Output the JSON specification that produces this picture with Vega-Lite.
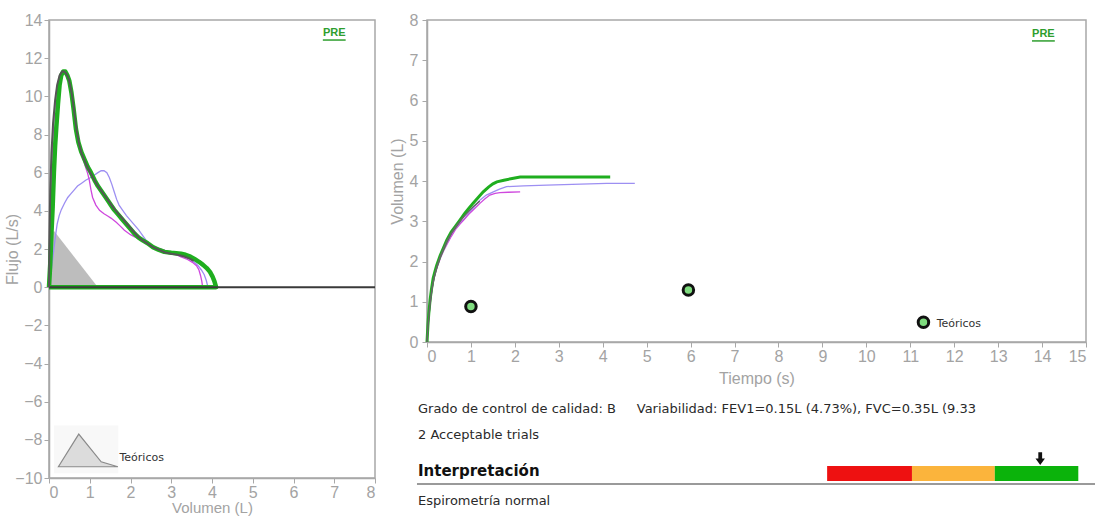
{
  "$schema": "https://vega.github.io/schema/vega-lite/v6.json",
  "background": "white",
  "padding": {"left": 4, "top": 11, "right": 0, "bottom": 0},
  "spacing": 11,
  "config": {
    "font": "Liberation Sans",
    "view": {"stroke": "#a8a8a8", "strokeWidth": 1.5},
    "axis": {
      "grid": false,
      "labelFont": "Liberation Sans",
      "labelFontSize": 16,
      "labelColor": "#a3a3a3",
      "titleFont": "Liberation Sans",
      "titleFontSize": 16,
      "titleFontWeight": "normal",
      "titleColor": "#a3a3a3",
      "domainColor": "#a8a8a8",
      "domainWidth": 1.5,
      "tickColor": "#a8a8a8",
      "tickSize": 5
    }
  },
  "datasets": {
    "one": [{}],
    "fv": [
      {"s": "g", "v": 0, "f": 0}, {"s": "g", "v": 0.03, "f": 1.2}, {"s": "g", "v": 0.06, "f": 2.8}, {"s": "g", "v": 0.09, "f": 4.2}, {"s": "g", "v": 0.12, "f": 6.0}, {"s": "g", "v": 0.15, "f": 7.4}, {"s": "g", "v": 0.18, "f": 8.4}, {"s": "g", "v": 0.22, "f": 9.6}, {"s": "g", "v": 0.26, "f": 10.6}, {"s": "g", "v": 0.3, "f": 11.1}, {"s": "g", "v": 0.35, "f": 11.3}, {"s": "g", "v": 0.4, "f": 11.3}, {"s": "g", "v": 0.45, "f": 11.1}, {"s": "g", "v": 0.5, "f": 10.8}, {"s": "g", "v": 0.55, "f": 10.2}, {"s": "g", "v": 0.6, "f": 9.4}, {"s": "g", "v": 0.66, "f": 8.3}, {"s": "g", "v": 0.72, "f": 7.6}, {"s": "g", "v": 0.79, "f": 7.1}, {"s": "g", "v": 0.87, "f": 6.7}, {"s": "g", "v": 0.95, "f": 6.3}, {"s": "g", "v": 1.03, "f": 6.0}, {"s": "g", "v": 1.12, "f": 5.6}, {"s": "g", "v": 1.2, "f": 5.3}, {"s": "g", "v": 1.28, "f": 5.05}, {"s": "g", "v": 1.36, "f": 4.8}, {"s": "g", "v": 1.44, "f": 4.55}, {"s": "g", "v": 1.52, "f": 4.3}, {"s": "g", "v": 1.6, "f": 4.05}, {"s": "g", "v": 1.7, "f": 3.8}, {"s": "g", "v": 1.8, "f": 3.55}, {"s": "g", "v": 1.9, "f": 3.3}, {"s": "g", "v": 2.0, "f": 3.05}, {"s": "g", "v": 2.1, "f": 2.8}, {"s": "g", "v": 2.2, "f": 2.6}, {"s": "g", "v": 2.3, "f": 2.45}, {"s": "g", "v": 2.42, "f": 2.3}, {"s": "g", "v": 2.55, "f": 2.1}, {"s": "g", "v": 2.7, "f": 1.95}, {"s": "g", "v": 2.83, "f": 1.85}, {"s": "g", "v": 3.0, "f": 1.8}, {"s": "g", "v": 3.12, "f": 1.78}, {"s": "g", "v": 3.24, "f": 1.75}, {"s": "g", "v": 3.35, "f": 1.7}, {"s": "g", "v": 3.47, "f": 1.6}, {"s": "g", "v": 3.57, "f": 1.48}, {"s": "g", "v": 3.68, "f": 1.33}, {"s": "g", "v": 3.78, "f": 1.17}, {"s": "g", "v": 3.87, "f": 1.0}, {"s": "g", "v": 3.95, "f": 0.8}, {"s": "g", "v": 4.01, "f": 0.57}, {"s": "g", "v": 4.06, "f": 0.3}, {"s": "g", "v": 4.09, "f": 0.08}, {"s": "g", "v": 4.1, "f": 0}, {"s": "g", "v": 0, "f": 0},
      {"s": "k", "v": 0, "f": 0}, {"s": "k", "v": 0.01, "f": 2.5}, {"s": "k", "v": 0.03, "f": 5.0}, {"s": "k", "v": 0.06, "f": 7.0}, {"s": "k", "v": 0.1, "f": 8.6}, {"s": "k", "v": 0.15, "f": 9.8}, {"s": "k", "v": 0.2, "f": 10.6}, {"s": "k", "v": 0.26, "f": 11.1}, {"s": "k", "v": 0.32, "f": 11.3}, {"s": "k", "v": 0.37, "f": 11.3}, {"s": "k", "v": 0.42, "f": 11.2}, {"s": "k", "v": 0.47, "f": 11.0}, {"s": "k", "v": 0.52, "f": 10.6}, {"s": "k", "v": 0.57, "f": 10.0}, {"s": "k", "v": 0.62, "f": 9.2}, {"s": "k", "v": 0.68, "f": 8.2}, {"s": "k", "v": 0.74, "f": 7.5}, {"s": "k", "v": 0.8, "f": 7.0}, {"s": "k", "v": 0.9, "f": 6.5}, {"s": "k", "v": 1.0, "f": 6.05}, {"s": "k", "v": 1.1, "f": 5.65}, {"s": "k", "v": 1.2, "f": 5.3}, {"s": "k", "v": 1.3, "f": 5.0}, {"s": "k", "v": 1.4, "f": 4.7}, {"s": "k", "v": 1.5, "f": 4.4}, {"s": "k", "v": 1.6, "f": 4.1}, {"s": "k", "v": 1.7, "f": 3.85}, {"s": "k", "v": 1.8, "f": 3.6}, {"s": "k", "v": 1.9, "f": 3.35}, {"s": "k", "v": 2.0, "f": 3.1}, {"s": "k", "v": 2.1, "f": 2.85}, {"s": "k", "v": 2.2, "f": 2.62}, {"s": "k", "v": 2.3, "f": 2.45}, {"s": "k", "v": 2.42, "f": 2.28}, {"s": "k", "v": 2.55, "f": 2.1}, {"s": "k", "v": 2.7, "f": 1.95}, {"s": "k", "v": 2.85, "f": 1.82}, {"s": "k", "v": 3.0, "f": 1.75}, {"s": "k", "v": 3.15, "f": 1.7}, {"s": "k", "v": 3.3, "f": 1.62}, {"s": "k", "v": 3.45, "f": 1.5}, {"s": "k", "v": 3.55, "f": 1.38},
      {"s": "m", "v": 0, "f": 0}, {"s": "m", "v": 0.02, "f": 2.0}, {"s": "m", "v": 0.04, "f": 4.0}, {"s": "m", "v": 0.06, "f": 5.8}, {"s": "m", "v": 0.09, "f": 7.5}, {"s": "m", "v": 0.13, "f": 9.0}, {"s": "m", "v": 0.18, "f": 10.2}, {"s": "m", "v": 0.24, "f": 10.9}, {"s": "m", "v": 0.3, "f": 11.2}, {"s": "m", "v": 0.36, "f": 11.25}, {"s": "m", "v": 0.42, "f": 11.1}, {"s": "m", "v": 0.48, "f": 10.8}, {"s": "m", "v": 0.54, "f": 10.1}, {"s": "m", "v": 0.6, "f": 9.3}, {"s": "m", "v": 0.66, "f": 8.3}, {"s": "m", "v": 0.72, "f": 7.6}, {"s": "m", "v": 0.8, "f": 7.0}, {"s": "m", "v": 0.88, "f": 6.4}, {"s": "m", "v": 0.95, "f": 5.95}, {"s": "m", "v": 0.99, "f": 5.6}, {"s": "m", "v": 1.03, "f": 5.1}, {"s": "m", "v": 1.07, "f": 4.7}, {"s": "m", "v": 1.15, "f": 4.3}, {"s": "m", "v": 1.24, "f": 4.03}, {"s": "m", "v": 1.35, "f": 3.85}, {"s": "m", "v": 1.45, "f": 3.72}, {"s": "m", "v": 1.52, "f": 3.62}, {"s": "m", "v": 1.65, "f": 3.4}, {"s": "m", "v": 1.75, "f": 3.2}, {"s": "m", "v": 1.85, "f": 2.98}, {"s": "m", "v": 2.0, "f": 2.75}, {"s": "m", "v": 2.15, "f": 2.58}, {"s": "m", "v": 2.26, "f": 2.46}, {"s": "m", "v": 2.4, "f": 2.3}, {"s": "m", "v": 2.6, "f": 2.1}, {"s": "m", "v": 2.83, "f": 1.94}, {"s": "m", "v": 3.0, "f": 1.8}, {"s": "m", "v": 3.12, "f": 1.7}, {"s": "m", "v": 3.24, "f": 1.59}, {"s": "m", "v": 3.4, "f": 1.45}, {"s": "m", "v": 3.52, "f": 1.3}, {"s": "m", "v": 3.62, "f": 1.12}, {"s": "m", "v": 3.68, "f": 0.9}, {"s": "m", "v": 3.72, "f": 0.6}, {"s": "m", "v": 3.75, "f": 0.3}, {"s": "m", "v": 3.77, "f": 0},
      {"s": "b", "v": 0, "f": 0}, {"s": "b", "v": 0.04, "f": 0.6}, {"s": "b", "v": 0.08, "f": 1.3}, {"s": "b", "v": 0.12, "f": 2.0}, {"s": "b", "v": 0.16, "f": 2.7}, {"s": "b", "v": 0.2, "f": 3.3}, {"s": "b", "v": 0.25, "f": 3.75}, {"s": "b", "v": 0.3, "f": 4.05}, {"s": "b", "v": 0.38, "f": 4.4}, {"s": "b", "v": 0.46, "f": 4.7}, {"s": "b", "v": 0.54, "f": 4.9}, {"s": "b", "v": 0.62, "f": 5.1}, {"s": "b", "v": 0.7, "f": 5.3}, {"s": "b", "v": 0.8, "f": 5.45}, {"s": "b", "v": 0.9, "f": 5.6}, {"s": "b", "v": 1.0, "f": 5.72}, {"s": "b", "v": 1.1, "f": 5.85}, {"s": "b", "v": 1.2, "f": 6.0}, {"s": "b", "v": 1.28, "f": 6.1}, {"s": "b", "v": 1.35, "f": 6.1}, {"s": "b", "v": 1.42, "f": 6.0}, {"s": "b", "v": 1.48, "f": 5.75}, {"s": "b", "v": 1.54, "f": 5.4}, {"s": "b", "v": 1.6, "f": 5.0}, {"s": "b", "v": 1.66, "f": 4.6}, {"s": "b", "v": 1.72, "f": 4.3}, {"s": "b", "v": 1.8, "f": 4.05}, {"s": "b", "v": 1.9, "f": 3.75}, {"s": "b", "v": 2.0, "f": 3.5}, {"s": "b", "v": 2.1, "f": 3.25}, {"s": "b", "v": 2.2, "f": 3.0}, {"s": "b", "v": 2.3, "f": 2.7}, {"s": "b", "v": 2.42, "f": 2.35}, {"s": "b", "v": 2.55, "f": 2.12}, {"s": "b", "v": 2.7, "f": 1.97}, {"s": "b", "v": 2.83, "f": 1.87}, {"s": "b", "v": 3.0, "f": 1.78}, {"s": "b", "v": 3.12, "f": 1.73}, {"s": "b", "v": 3.24, "f": 1.68}, {"s": "b", "v": 3.35, "f": 1.58}, {"s": "b", "v": 3.47, "f": 1.45}, {"s": "b", "v": 3.57, "f": 1.3}, {"s": "b", "v": 3.66, "f": 1.12}, {"s": "b", "v": 3.74, "f": 0.9}, {"s": "b", "v": 3.81, "f": 0.65}, {"s": "b", "v": 3.86, "f": 0.35}, {"s": "b", "v": 3.9, "f": 0}
    ],
    "fvTeo": [
      {"v": 0.02, "f": 0}, {"v": 0.05, "f": 2.6}, {"v": 0.12, "f": 2.95}, {"v": 1.2, "f": 0}
    ],
    "legTri": [
      {"v": 0.23, "f": -9.41}, {"v": 0.73, "f": -7.7}, {"v": 1.28, "f": -9.15}, {"v": 1.69, "f": -9.41}
    ],
    "vt": [
      {"s": "g", "t": 0, "vol": 0}, {"s": "g", "t": 0.02, "vol": 0.4}, {"s": "g", "t": 0.04, "vol": 0.7}, {"s": "g", "t": 0.07, "vol": 1.04}, {"s": "g", "t": 0.1, "vol": 1.3}, {"s": "g", "t": 0.14, "vol": 1.58}, {"s": "g", "t": 0.18, "vol": 1.75}, {"s": "g", "t": 0.22, "vol": 1.9}, {"s": "g", "t": 0.3, "vol": 2.15}, {"s": "g", "t": 0.38, "vol": 2.35}, {"s": "g", "t": 0.45, "vol": 2.53}, {"s": "g", "t": 0.55, "vol": 2.73}, {"s": "g", "t": 0.65, "vol": 2.88}, {"s": "g", "t": 0.75, "vol": 3.03}, {"s": "g", "t": 0.85, "vol": 3.18}, {"s": "g", "t": 0.95, "vol": 3.32}, {"s": "g", "t": 1.05, "vol": 3.45}, {"s": "g", "t": 1.15, "vol": 3.57}, {"s": "g", "t": 1.28, "vol": 3.73}, {"s": "g", "t": 1.4, "vol": 3.85}, {"s": "g", "t": 1.5, "vol": 3.93}, {"s": "g", "t": 1.59, "vol": 3.98}, {"s": "g", "t": 1.75, "vol": 4.02}, {"s": "g", "t": 1.97, "vol": 4.07}, {"s": "g", "t": 2.12, "vol": 4.1}, {"s": "g", "t": 4.17, "vol": 4.1},
      {"s": "b", "t": 0, "vol": 0}, {"s": "b", "t": 0.02, "vol": 0.35}, {"s": "b", "t": 0.04, "vol": 0.65}, {"s": "b", "t": 0.07, "vol": 0.96}, {"s": "b", "t": 0.1, "vol": 1.22}, {"s": "b", "t": 0.14, "vol": 1.5}, {"s": "b", "t": 0.18, "vol": 1.7}, {"s": "b", "t": 0.22, "vol": 1.85}, {"s": "b", "t": 0.3, "vol": 2.1}, {"s": "b", "t": 0.38, "vol": 2.3}, {"s": "b", "t": 0.45, "vol": 2.45}, {"s": "b", "t": 0.55, "vol": 2.65}, {"s": "b", "t": 0.65, "vol": 2.83}, {"s": "b", "t": 0.75, "vol": 2.95}, {"s": "b", "t": 0.83, "vol": 3.03}, {"s": "b", "t": 0.95, "vol": 3.2}, {"s": "b", "t": 1.05, "vol": 3.33}, {"s": "b", "t": 1.21, "vol": 3.53}, {"s": "b", "t": 1.35, "vol": 3.65}, {"s": "b", "t": 1.51, "vol": 3.73}, {"s": "b", "t": 1.65, "vol": 3.8}, {"s": "b", "t": 1.81, "vol": 3.86}, {"s": "b", "t": 2.2, "vol": 3.88}, {"s": "b", "t": 2.73, "vol": 3.9}, {"s": "b", "t": 3.5, "vol": 3.92}, {"s": "b", "t": 4.09, "vol": 3.94}, {"s": "b", "t": 4.73, "vol": 3.94},
      {"s": "m", "t": 0, "vol": 0}, {"s": "m", "t": 0.02, "vol": 0.33}, {"s": "m", "t": 0.04, "vol": 0.62}, {"s": "m", "t": 0.07, "vol": 0.93}, {"s": "m", "t": 0.1, "vol": 1.2}, {"s": "m", "t": 0.14, "vol": 1.47}, {"s": "m", "t": 0.18, "vol": 1.66}, {"s": "m", "t": 0.22, "vol": 1.82}, {"s": "m", "t": 0.3, "vol": 2.07}, {"s": "m", "t": 0.38, "vol": 2.27}, {"s": "m", "t": 0.45, "vol": 2.42}, {"s": "m", "t": 0.55, "vol": 2.62}, {"s": "m", "t": 0.65, "vol": 2.8}, {"s": "m", "t": 0.75, "vol": 2.93}, {"s": "m", "t": 0.85, "vol": 3.05}, {"s": "m", "t": 0.95, "vol": 3.17}, {"s": "m", "t": 1.05, "vol": 3.28}, {"s": "m", "t": 1.21, "vol": 3.45}, {"s": "m", "t": 1.32, "vol": 3.56}, {"s": "m", "t": 1.43, "vol": 3.65}, {"s": "m", "t": 1.55, "vol": 3.69}, {"s": "m", "t": 1.66, "vol": 3.71}, {"s": "m", "t": 1.85, "vol": 3.72}, {"s": "m", "t": 2.12, "vol": 3.73},
      {"s": "k", "t": 0, "vol": 0}, {"s": "k", "t": 0.02, "vol": 0.38}, {"s": "k", "t": 0.05, "vol": 0.72}, {"s": "k", "t": 0.08, "vol": 1.05}, {"s": "k", "t": 0.12, "vol": 1.37}, {"s": "k", "t": 0.16, "vol": 1.6}, {"s": "k", "t": 0.22, "vol": 1.85}, {"s": "k", "t": 0.3, "vol": 2.12}, {"s": "k", "t": 0.38, "vol": 2.33}, {"s": "k", "t": 0.45, "vol": 2.5}, {"s": "k", "t": 0.55, "vol": 2.7}, {"s": "k", "t": 0.65, "vol": 2.86}, {"s": "k", "t": 0.75, "vol": 3.0}, {"s": "k", "t": 0.85, "vol": 3.13}, {"s": "k", "t": 0.95, "vol": 3.25}, {"s": "k", "t": 1.05, "vol": 3.36}, {"s": "k", "t": 1.2, "vol": 3.5}
    ],
    "vtTeo": [
      {"t": 1.0, "vol": 0.88}, {"t": 5.95, "vol": 1.29}, {"t": 11.3, "vol": 0.49}
    ],
    "gauge": [
      {"zona": "rojo", "desde": 59.9, "hasta": 72.6},
      {"zona": "naranja", "desde": 72.6, "hasta": 85.0},
      {"zona": "verde", "desde": 85.0, "hasta": 97.5}
    ]
  },
  "hconcat": [
    {
      "width": 326,
      "height": 458,
      "encoding": {
        "x": {"type": "quantitative", "title": "Volumen (L)", "scale": {"domain": [0, 8], "nice": false, "zero": false}, "axis": {"values": [0, 1, 2, 3, 4, 5, 6, 7, 8], "labelPadding": 1, "titlePadding": 0, "titleFontSize": 15}},
        "y": {"type": "quantitative", "title": "Flujo (L/s)", "scale": {"domain": [-10, 14], "nice": false, "zero": false}, "axis": {"values": [-10, -8, -6, -4, -2, 0, 2, 4, 6, 8, 10, 12, 14], "labelPadding": 2, "titlePadding": -6}}
      },
      "layer": [
        {
          "data": {"name": "one"},
          "mark": {"type": "rect", "fill": "#f8f8f8"},
          "encoding": {
            "x": {"datum": 0.12},
            "x2": {"datum": 1.7},
            "y": {"datum": -7.25},
            "y2": {"datum": -9.75}
          }
        },
        {
          "data": {"name": "fvTeo"},
          "mark": {"type": "area", "color": "#bdbdbd", "opacity": 1},
          "encoding": {"x": {"field": "v"}, "y": {"field": "f"}, "order": {"value": null}}
        },
        {
          "data": {"name": "fv"},
          "transform": [{"filter": "datum.s === 'b'"}],
          "mark": {"type": "line", "color": "#9d8ff2", "strokeWidth": 1.3},
          "encoding": {"x": {"field": "v"}, "y": {"field": "f"}, "order": {"value": null}}
        },
        {
          "data": {"name": "fv"},
          "transform": [{"filter": "datum.s === 'm'"}],
          "mark": {"type": "line", "color": "#cf48de", "strokeWidth": 1.3},
          "encoding": {"x": {"field": "v"}, "y": {"field": "f"}, "order": {"value": null}}
        },
        {
          "data": {"name": "fv"},
          "transform": [{"filter": "datum.s === 'g'"}],
          "mark": {"type": "line", "color": "#1fae1f", "strokeWidth": 4.5, "strokeJoin": "round"},
          "encoding": {"x": {"field": "v"}, "y": {"field": "f"}, "order": {"value": null}}
        },
        {
          "data": {"name": "one"},
          "mark": {"type": "rule", "color": "#3a3a3a", "strokeWidth": 2},
          "encoding": {"x": {"datum": 0}, "x2": {"datum": 8}, "y": {"datum": 0}}
        },
        {
          "data": {"name": "fv"},
          "transform": [{"filter": "datum.s === 'k'"}],
          "mark": {"type": "line", "color": "#555555", "strokeWidth": 2},
          "encoding": {"x": {"field": "v"}, "y": {"field": "f"}, "order": {"value": null}}
        },
        {
          "data": {"name": "legTri"},
          "mark": {"type": "area", "fill": "#dcdcdc", "stroke": "#8a8a8a", "strokeWidth": 1.2},
          "encoding": {"x": {"field": "v"}, "y": {"field": "f"}, "y2": {"datum": -9.41}, "order": {"value": null}}
        },
        {
          "data": {"name": "one"},
          "mark": {"type": "text", "text": "Teóricos", "font": "DejaVu Sans", "fontSize": 11, "color": "#333333", "align": "left", "baseline": "middle"},
          "encoding": {"x": {"datum": 1.73}, "y": {"datum": -8.95}}
        },
        {
          "data": {"name": "one"},
          "mark": {"type": "text", "text": "PRE", "font": "Liberation Sans", "fontWeight": "bold", "fontSize": 11, "color": "#2e9e2e", "align": "center", "baseline": "middle"},
          "encoding": {"x": {"datum": 7.0}, "y": {"datum": 13.3}}
        },
        {
          "data": {"name": "one"},
          "mark": {"type": "rule", "color": "#2e9e2e", "strokeWidth": 1.5},
          "encoding": {"x": {"datum": 6.72}, "x2": {"datum": 7.28}, "y": {"datum": 12.95}}
        }
      ]
    },
    {
      "spacing": 10,
      "vconcat": [
        {
          "width": 659,
          "height": 322,
          "encoding": {
            "x": {"type": "quantitative", "title": "Tiempo (s)", "scale": {"domain": [0, 15], "nice": false, "zero": false}, "axis": {"values": [0, 1, 2, 3, 4, 5, 6, 7, 8, 9, 10, 11, 12, 13, 14, 15], "labelPadding": 1, "titlePadding": 6}},
            "y": {"type": "quantitative", "title": "Volumen (L)", "scale": {"domain": [0, 8], "nice": false, "zero": false}, "axis": {"values": [0, 1, 2, 3, 4, 5, 6, 7, 8], "labelPadding": 4, "titlePadding": 4}}
          },
          "layer": [
            {
              "data": {"name": "vt"},
              "transform": [{"filter": "datum.s === 'b'"}],
              "mark": {"type": "line", "color": "#9d8ff2", "strokeWidth": 1.3},
              "encoding": {"x": {"field": "t"}, "y": {"field": "vol"}, "order": {"value": null}}
            },
            {
              "data": {"name": "vt"},
              "transform": [{"filter": "datum.s === 'm'"}],
              "mark": {"type": "line", "color": "#cf48de", "strokeWidth": 1.3},
              "encoding": {"x": {"field": "t"}, "y": {"field": "vol"}, "order": {"value": null}}
            },
            {
              "data": {"name": "vt"},
              "transform": [{"filter": "datum.s === 'g'"}],
              "mark": {"type": "line", "color": "#1fae1f", "strokeWidth": 3},
              "encoding": {"x": {"field": "t"}, "y": {"field": "vol"}, "order": {"value": null}}
            },
            {
              "data": {"name": "vt"},
              "transform": [{"filter": "datum.s === 'k'"}],
              "mark": {"type": "line", "color": "#666666", "strokeWidth": 1.5},
              "encoding": {"x": {"field": "t"}, "y": {"field": "vol"}, "order": {"value": null}}
            },
            {
              "data": {"name": "vtTeo"},
              "mark": {"type": "point", "shape": "circle", "filled": true, "fill": "#7fdc7f", "stroke": "#111111", "strokeWidth": 3, "size": 110, "opacity": 1},
              "encoding": {"x": {"field": "t"}, "y": {"field": "vol"}}
            },
            {
              "data": {"name": "one"},
              "mark": {"type": "text", "text": "Teóricos", "font": "DejaVu Sans", "fontSize": 11, "color": "#333333", "align": "left", "baseline": "middle"},
              "encoding": {"x": {"datum": 11.6}, "y": {"datum": 0.45}}
            },
            {
              "data": {"name": "one"},
              "mark": {"type": "text", "text": "PRE", "font": "Liberation Sans", "fontWeight": "bold", "fontSize": 11, "color": "#2e9e2e", "align": "center", "baseline": "middle"},
              "encoding": {"x": {"datum": 14.03}, "y": {"datum": 7.65}}
            },
            {
              "data": {"name": "one"},
              "mark": {"type": "rule", "color": "#2e9e2e", "strokeWidth": 1.5},
              "encoding": {"x": {"datum": 13.77}, "x2": {"datum": 14.29}, "y": {"datum": 7.48}}
            }
          ]
        },
        {
          "width": 668,
          "height": 112,
          "view": {"stroke": null},
          "data": {"name": "one"},
          "encoding": {
            "x": {"type": "quantitative", "scale": {"domain": [0, 100], "nice": false, "zero": false}, "axis": null},
            "y": {"type": "quantitative", "scale": {"domain": [0, 100], "nice": false, "zero": false, "reverse": true}, "axis": null}
          },
          "layer": [
            {
              "mark": {"type": "text", "text": "Grado de control de calidad: B", "font": "DejaVu Sans", "fontSize": 13, "color": "#2a2a2a", "align": "left", "baseline": "middle"},
              "encoding": {"x": {"datum": -1.35}, "y": {"datum": 10.7}}
            },
            {
              "mark": {"type": "text", "text": "Variabilidad: FEV1=0.15L (4.73%), FVC=0.35L (9.33", "font": "DejaVu Sans", "fontSize": 13, "color": "#2a2a2a", "align": "left", "baseline": "middle"},
              "encoding": {"x": {"datum": 31.4}, "y": {"datum": 10.7}}
            },
            {
              "mark": {"type": "text", "text": "2 Acceptable trials", "font": "DejaVu Sans", "fontSize": 13, "color": "#2a2a2a", "align": "left", "baseline": "middle"},
              "encoding": {"x": {"datum": -1.35}, "y": {"datum": 34}}
            },
            {
              "mark": {"type": "text", "text": "Interpretación", "font": "DejaVu Sans", "fontSize": 15, "fontWeight": "bold", "color": "#111111", "align": "left", "baseline": "middle"},
              "encoding": {"x": {"datum": -1.35}, "y": {"datum": 66}}
            },
            {
              "data": {"name": "gauge"},
              "mark": {"type": "rect"},
              "encoding": {
                "x": {"field": "desde"},
                "x2": {"field": "hasta"},
                "y": {"datum": 61.6},
                "y2": {"datum": 75},
                "color": {"field": "zona", "type": "nominal", "legend": null, "scale": {"domain": ["rojo", "naranja", "verde"], "range": ["#ee1111", "#fbb43c", "#0bb30b"]}}
              }
            },
            {
              "mark": {"type": "point", "shape": "M-0.3,-1L0.3,-1L0.3,0L0.75,0L0,1L-0.75,0L-0.3,0Z", "filled": true, "color": "#111111", "size": 160, "opacity": 1},
              "encoding": {"x": {"datum": 91.8}, "y": {"datum": 55}}
            },
            {
              "mark": {"type": "rule", "color": "#9a9a9a", "strokeWidth": 2},
              "encoding": {"x": {"datum": -1.5}, "x2": {"datum": 100}, "y": {"datum": 77.7}}
            },
            {
              "mark": {"type": "text", "text": "Espirometría normal", "font": "DejaVu Sans", "fontSize": 13, "color": "#2a2a2a", "align": "left", "baseline": "middle"},
              "encoding": {"x": {"datum": -1.35}, "y": {"datum": 93}}
            }
          ]
        }
      ]
    }
  ]
}
